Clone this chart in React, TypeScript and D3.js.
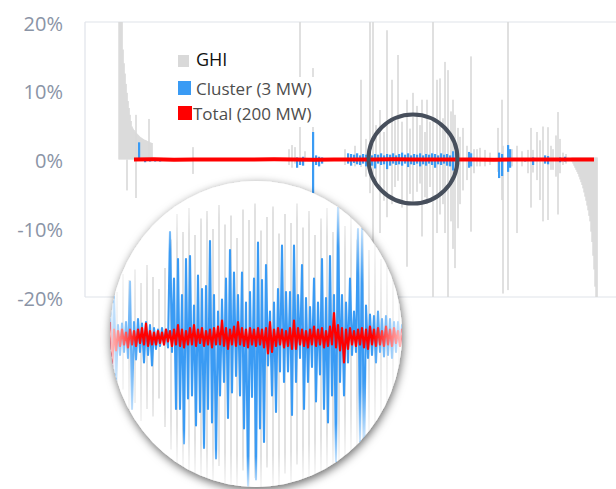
import React from "react";
import * as d3 from "d3";

// y axis ticks (percent deviation)
const yTicks = [20, 10, 0, -10, -20];

// GHI, main chart. t = sample index along the x axis
const ghiRampLeftStart = 2;
const ghiRampLeft = [
  20, 20, 20, 20, 16, 14, 12.5, 11, 9.7, 8.5, 7.5, 6.5, 5.6, 4.8, 4.5, 4.3, 4.1,
  3.9, 3.75, 3.6, 3.45, 3.3, 3.2, 3.1, 3.0, 2.9, 2.85, 2.8, 2.7, 2.65, 2.6, 2.5, 2.45, 2.4,
];
const ghiRampRightStart = 455;
const ghiRampRight = [
  -0.3, -0.6, -0.9, -1.2, -1.5, -1.8, -2.1, -2.5, -2.9, -3.3, -3.7, -4.2, -4.8,
  -5.4, -6.0, -6.7, -7.4, -8.2, -9.0, -10.5, -12, -14, -16, -18.5, -20, -20,
];
// [t, high, low]
const ghiSpikes: [number, number, number][] = [
  [10, 0, -4.5], [19, 6.5, -5.6], [32, 5.9, 0], [76, 1.8, -2.1],
  [172, 1.5, -0.8], [175, 2.1, -1.2], [178, 1.8, -0.6], [183, 20, -0.5],
  [188, 1.2, -0.3], [196, 13.3, -0.5], [228, 1.5, -0.8], [238, 2.0, -1.0],
  [244, 11.6, -1.1], [249, 3.0, -2.5], [253, 20, -4.9], [256, 20, -19.4],
  [259, 5.0, -3.0], [263, 7.2, -10.7], [267, 4.0, -6.0], [270, 18.8, -8.4],
  [275, 11.6, -6.5], [278, 6.0, -4.0], [281, 15.2, -3.1], [285, 5.5, -7.0],
  [290, 8.7, -15.6], [293, 4.5, -5.0], [296, 9.7, -6.5], [300, 7.8, -4.7],
  [303, 5.0, -3.5], [305, 8.7, -11.2], [308, 4.0, -5.5], [310, 8.7, -6.5],
  [313, 5.5, -4.0], [316, 20, -20], [320, 11.6, -10.7], [323, 11.8, -8.0],
  [326, 6.0, -6.5], [328, 14.2, -10.7], [331, 13.0, -20], [334, 7.0, -9.0],
  [336, 8.7, -13.0], [338, 6.5, -15.8], [341, 4.6, -10.0], [343, 3.3, -6.5],
  [346, 4.6, -4.5], [350, 2.0, -3.0], [354, 15.0, -10.5], [357, 1.5, -2.0],
  [360, 1.5, -1.0], [363, 1.7, -1.0], [368, 1.4, -1.0], [373, 1.0, -0.8],
  [381, 4.6, -1.8], [385, 8.7, -5.9], [386, 2.0, -19.5], [391, 20, -19.0],
  [395, 1.5, -1.0], [400, 2.0, -10.7], [405, 1.2, -1.0], [411, 1.4, -2.0],
  [414, 4.6, -7.0], [416, 1.4, -1.9], [420, 4.0, -3.0], [423, 2.8, -5.9],
  [426, 4.8, -9.0], [431, 4.7, -8.8], [434, 2.0, -1.5], [436, 1.5, -1.5],
  [439, 3.5, -2.5], [441, 6.9, -8.0], [443, 3.0, -2.0], [446, 1.0, -0.8],
  [449, 0.8, -0.6],
];

// Cluster (3 MW), main chart: [t, high, low]
const clusterBars: [number, number, number][] = [
  [22, 2.5, 0], [28, 0, -0.4], [33, 0, -0.3], [38, 0, -0.3], [43, 0, -0.3],
  [180, 0.3, -1.2], [183, 0.2, -0.8], [186, 0.4, -0.9], [196, 4.0, -4.9],
  [199, 0.6, -0.8], [202, 0.4, -1.0], [205, 0.3, -0.6],
  [231, 0.9, -0.6], [234, 0.8, -0.9], [237, 0.7, -0.5], [240, 0.9, -0.7],
  [243, 0.6, -0.8], [246, 0.8, -0.6], [249, 0.7, -1.0], [252, 0.9, -0.7],
  [255, 0.6, -0.9], [258, 0.8, -1.3], [261, 0.7, -0.6], [264, 0.9, -0.8],
  [267, 0.6, -0.7], [270, 0.8, -1.4], [273, 0.7, -0.9], [276, 0.9, -0.6],
  [279, 0.6, -0.8], [282, 0.8, -0.7], [285, 1.0, -0.9], [288, 0.7, -0.6],
  [291, 0.9, -1.1], [294, 0.6, -0.7], [297, 0.8, -0.8], [300, 0.7, -0.6],
  [303, 0.9, -1.0], [306, 0.6, -0.7], [309, 0.8, -0.9], [312, 0.7, -0.6],
  [315, 0.9, -0.8], [318, 0.8, -1.2], [321, 0.6, -0.7], [324, 0.9, -0.8],
  [327, 0.7, -0.6], [330, 0.8, -0.9], [333, 0.6, -1.0], [336, 1.2, -1.6],
  [339, 0.9, -1.8], [352, 1.1, -1.2], [354, 0.9, -1.0], [382, 1.0, -2.7],
  [385, 0.8, -2.4], [391, 2.1, -1.8], [393, 1.5, -1.2], [408, 0, -0.3],
  [416, 0.3, -0.8], [428, 0.6, -0.6], [431, 0.5, -0.7], [443, 0.3, -0.4],
  [448, 0.4, -0.3],
];

// Total (200 MW), main chart
const totalStart = 17;
const totalStep = 20;
const totalMain = [
  0, 0.02, -0.02, 0, 0.01, -0.01, 0, 0.02, 0, -0.02, 0.01, 0,
  -0.01, 0.02, 0, -0.01, 0.01, 0, -0.02, 0.01, 0, 0.01, -0.01, 0,
];

// zoomed inset: blue and red high/low per sample
const insetBlueHi = [
  2.8, 2.8, 0.8, 0.9, 1.0, 3.7, 1.0, 1.2, 0.9, 1.0, 0.8, 0.6, 0.5, 0.6, 0.5,
  7.0, 3.9, 5.2, 2.8, 5.2, 5.4, 2.1, 4.1, 3.2, 3.4, 6.4, 2.8, 1.7, 2.5, 3.9,
  5.8, 4.3, 2.8, 4.3, 2.3, 3.0, 3.9, 6.3, 3.8, 4.8, 1.7, 2.3, 3.2, 6.1, 3.0,
  3.0, 6.1, 2.8, 4.8, 2.6, 2.0, 3.9, 2.3, 5.2, 2.6, 5.4, 2.8, 8.6, 2.8, 2.3,
  3.9, 1.7, 7.2, 7.2, 2.1, 1.5, 1.4, 1.7, 1.2, 1.4, 1.2, 1.0, 1.0, 0.8,
];
const insetBlueLo = [
  -3.0, -3.0, -1.2, -1.0, -1.4, -4.8, -1.5, -1.0, -1.7, -1.2, -1.9, -0.8, -0.6, -0.5, -0.7,
  -1.0, -4.8, -4.8, -7.1, -4.1, -3.9, -5.9, -5.0, -7.4, -4.8, -5.7, -8.1, -3.9, -3.0, -5.4,
  -3.7, -2.6, -3.9, -6.1, -9.9, -4.0, -9.5, -6.1, -7.0, -1.9, -3.9, -5.0, -2.3, -3.0, -2.3,
  -5.2, -3.0, -1.4, -4.8, -3.0, -2.0, -4.3, -2.5, -4.8, -5.7, -3.9, -8.3, -3.0, -3.9, -1.7,
  -1.2, -1.0, -7.0, -8.9, -1.4, -1.2, -1.7, -1.0, -1.3, -1.2, -1.4, -1.0, -0.4, -0.3,
];
const insetRedHi = [
  1.0, 0.5, 0.4, 0.5, 0.3, 0.5, 0.4, 0.5, 0.6, 0.9, 0.4, 0.3, 0.4, 0.3, 0.5,
  0.4, 0.5, 0.8, 0.5, 0.4, 0.6, 0.8, 0.5, 0.6, 0.4, 0.5, 0.6, 0.7, 1.1, 0.6,
  0.5, 0.7, 1.0, 0.6, 0.5, 0.6, 0.5, 0.6, 0.5, 0.6, 1.0, 0.5, 0.6, 0.5, 0.4,
  0.6, 1.1, 0.6, 0.5, 0.4, 0.5, 0.7, 0.5, 0.6, 0.4, 0.7, 1.6, 0.8, 0.6, 0.5,
  0.6, 0.4, 0.5, 0.6, 0.5, 0.7, 0.5, 0.6, 0.4, 0.7, 0.5, 0.6, 0.4, 0.5,
];
const insetRedLo = [
  -2.1, -0.9, -0.6, -0.5, -0.7, -0.5, -0.6, -0.4, -0.5, -0.6, -0.5, -0.5, -0.4, -0.5, -0.3,
  -0.6, -0.5, -0.6, -0.7, -0.5, -0.5, -0.6, -0.4, -0.6, -0.5, -0.7, -0.5, -0.5, -0.6, -0.8,
  -0.5, -0.6, -0.5, -0.6, -0.7, -0.5, -0.6, -0.5, -0.7, -1.1, -1.0, -0.6, -0.5, -0.7, -0.6,
  -0.8, -0.8, -0.5, -0.6, -0.7, -0.5, -0.6, -0.5, -0.7, -0.6, -0.5, -0.7, -0.9, -1.7, -0.8,
  -0.5, -0.6, -0.5, -0.7, -0.8, -0.5, -0.6, -0.5, -0.6, -0.5, -0.6, -0.4, -0.6, -0.5,
];
const insetGrayHi = [
  3.5, 3.0, 4.2, 3.8, 4.5, 3.6, 4.8, 4.0, 3.2, 4.6, 6.5, 8.2, 7.0, 8.6, 6.8, 7.9,
  8.4, 7.2, 8.8, 7.5, 8.1, 6.6, 8.5, 7.8, 8.9, 7.1, 8.0, 8.7, 6.9, 8.2, 7.6, 8.9,
  7.3, 8.4, 6.8, 7.9, 8.6, 7.0, 8.8, 7.4, 8.1, 6.5, 7.7, 5.8, 6.9, 5.2, 6.0, 4.6, 3.8,
];
const insetGrayLo = [
  -3.0, -4.2, -3.5, -5.0, -4.4, -5.6, -4.8, -5.3, -4.1, -6.0, -7.5, -9.6, -8.8, -10, -9.2, -10,
  -9.5, -10, -8.6, -10, -9.8, -10, -8.9, -10, -9.4, -10, -8.7, -10, -9.9, -9.1, -10, -8.5,
  -10, -9.6, -10, -9.0, -10, -9.7, -8.8, -10, -9.3, -10, -8.4, -9.6, -7.8, -9.0, -7.2, -6.5, -5.5,
];

const legendLabels = ["GHI", "Cluster (3 MW)", "Total (200 MW)"];
const legendColors = ["#d9d9d9", "#3a9bf4", "#ff0000"];

const W = 616;
const H = 489;
const FONT = "'Open Sans', 'Noto Sans', sans-serif";

const App = () => {
  const x = d3.scaleLinear().domain([0, 480]).range([117, 597]);
  const y = d3.scaleLinear().domain([-20, 20]).range([297, 22]);

  const inX = d3.scaleLinear().domain([0, insetBlueHi.length - 1]).range([110, 402]);
  const inGX = d3.scaleLinear().domain([0, insetGrayHi.length - 1]).range([111, 399]);
  const inY = d3.scaleLinear().domain([-10, 10]).range([487, 187]);

  const zig = (hi: number[], lo: number[]) => {
    const pts: [number, number][] = [];
    hi.forEach((h, i) => {
      pts.push([inX(i), inY(h)]);
      pts.push([inX(i) + 2, inY(lo[i])]);
    });
    return d3.line()(pts) || "";
  };

  const totalLine = d3
    .line<number>()
    .x((_, i) => x(totalStart + i * totalStep))
    .y((d) => y(d));

  const cx = 256, cy = 334, rx = 146, ry = 153;

  return (
    <svg width={W} height={H} style={{ position: "absolute", left: 0, top: 0, background: "#fff" }}>
      <defs>
        <clipPath id="insetClip">
          <ellipse cx={cx} cy={cy} rx={rx} ry={ry} />
        </clipPath>
        <filter id="shadow" x="-20%" y="-20%" width="140%" height="140%">
          <feDropShadow dx="1" dy="3" stdDeviation="5" floodColor="#000" floodOpacity="0.6" />
        </filter>
        <filter id="soft" x="-10%" y="-10%" width="120%" height="120%">
          <feGaussianBlur stdDeviation="0.7" />
        </filter>
        <radialGradient id="fade" cx="50%" cy="50%" r="50%">
          <stop offset="0%" stopColor="#fff" stopOpacity="0" />
          <stop offset="80%" stopColor="#fff" stopOpacity="0" />
          <stop offset="100%" stopColor="#fff" stopOpacity="0.75" />
        </radialGradient>
      </defs>

      {/* frame */}
      <g stroke="#dfe3ea" strokeWidth={1.2}>
        <line x1={85} x2={W} y1={y(20)} y2={y(20)} />
        <line x1={85} x2={W} y1={y(-20)} y2={y(-20)} />
        <line x1={85} x2={85} y1={y(20)} y2={y(-20)} />
      </g>

      {/* y labels */}
      <g fontFamily={FONT} fontSize={20} fill="#8a94a6" textAnchor="end">
        {yTicks.map((v) => (
          <text key={v} x={63} y={y(v) + 1} dominantBaseline="central">
            {`${v}%`}
          </text>
        ))}
      </g>

      {/* GHI */}
      <g fill="#d9d9d9">
        {ghiRampLeft.map((v, i) => (
          <rect key={"l" + i} x={x(ghiRampLeftStart + i) - 0.7} width={1.5} y={y(v)} height={y(0) - y(v)} />
        ))}
        {ghiRampRight.map((v, i) => (
          <rect key={"r" + i} x={x(ghiRampRightStart + i) - 0.7} width={1.5} y={y(0.3)} height={y(v) - y(0.3)} />
        ))}
        {ghiSpikes.map(([t, hi, lo], i) => (
          <rect key={"s" + i} x={x(t) - 0.8} width={1.6} y={y(hi)} height={y(lo) - y(hi)} />
        ))}
      </g>

      {/* Cluster */}
      <g fill="#3a9bf4">
        {clusterBars.map(([t, hi, lo], i) => (
          <rect key={i} x={x(t) - 1} width={2.2} y={y(hi)} height={Math.max(1, y(lo) - y(hi))} />
        ))}
      </g>

      {/* Total */}
      <path d={totalLine(totalMain) || ""} fill="none" stroke="#ff0000" strokeWidth={4} />

      {/* legend */}
      <rect x={176} y={47} width={48} height={22} fill="#fff" />
      <rect x={176} y={77} width={156} height={50} fill="#fff" />
      <g fontFamily={FONT} fontSize={17}>
        {legendLabels.map((lab, i) => {
          const ly = 59 + i * 29 - (i === 2 ? 4 : 0);
          const sq = i === 0 ? 12 : 14;
          return (
            <g key={lab}>
              <rect x={178} y={ly - sq / 2 + (i === 0 ? 2 : 0)} width={sq - (i === 2 ? 0 : 1)} height={sq} fill={legendColors[i]} />
              <text
                x={i === 2 ? 193 : 196}
                y={ly}
                dominantBaseline="central"
                fill={i === 0 ? "#111" : "#4d4d4d"}
                fontSize={i === 0 ? 18 : 17}
                fontWeight={i === 0 ? 500 : 400}
              >
                {lab}
              </text>
            </g>
          );
        })}
      </g>

      {/* magnifier ring */}
      <circle cx={x(296)} cy={y(0) - 0.5} r={44.5} fill="none" stroke="#474f5c" strokeWidth={4} />

      {/* inset */}
      <ellipse cx={cx} cy={cy} rx={rx} ry={ry} fill="#fff" filter="url(#shadow)" />
      <g clipPath="url(#insetClip)">
        <g fill="#bdbdbd" opacity={0.45} filter="url(#soft)">
          {insetGrayHi.map((h, i) => (
            <rect key={i} x={inGX(i) - 1} width={2} y={inY(h)} height={inY(insetGrayLo[i]) - inY(h)} />
          ))}
        </g>
        <path d={zig(insetBlueHi, insetBlueLo)} fill="none" stroke="#3a9bf4" strokeWidth={2.1} strokeLinejoin="round" />
        <path d={zig(insetRedHi, insetRedLo)} fill="none" stroke="#ff0000" strokeWidth={2.2} strokeLinejoin="round" />
        <ellipse cx={cx} cy={cy} rx={rx} ry={ry} fill="url(#fade)" />
      </g>
    </svg>
  );
};

export default App;
